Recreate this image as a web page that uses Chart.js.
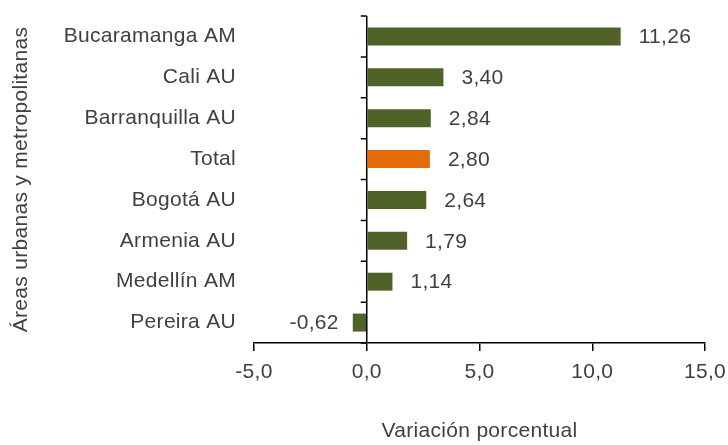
<!DOCTYPE html>
<html>
<head>
<meta charset="utf-8">
<script src="https://cdn.jsdelivr.net/npm/chart.js@4/dist/chart.umd.min.js"></script>
<style>
  html, body { margin: 0; padding: 0; background: #fff; }
  #wrap { width: 728px; height: 445px; }
</style>
</head>
<body>
<div id="wrap"><canvas id="chartCanvas" width="728" height="445"></canvas></div>
<script>
const categories = ["Bucaramanga AM", "Cali AU", "Barranquilla AU", "Total", "Bogotá AU", "Armenia AU", "Medellín AM", "Pereira AU"];
const values = [11.26, 3.40, 2.84, 2.80, 2.64, 1.79, 1.14, -0.62];
const xTicks = [-5, 0, 5, 10, 15];

const GREEN = "#4F6228";
const ORANGE = "#E36C09";
const TEXT = "#404040";
const FONT = "'Liberation Sans', Arial, sans-serif";
const FONT_SIZE = 21;
const SPACING = "0.3px";

const barColors = categories.map(c => c === "Total" ? ORANGE : GREEN);

function fmt(v, d) {
    return v.toFixed(d).replace(".", ",");
}

const spacingPlugin = {
    id: "spacing",
    beforeLayout(chart) { chart.ctx.letterSpacing = SPACING; },
    beforeDraw(chart) { chart.ctx.letterSpacing = SPACING; }
};

// value labels beside each bar
const valueLabels = {
    id: "valueLabels",
    afterDatasetsDraw(chart) {
        const ctx = chart.ctx;
        const meta = chart.getDatasetMeta(0);
        ctx.save();
        ctx.letterSpacing = SPACING;
        ctx.font = FONT_SIZE + "px " + FONT;
        ctx.fillStyle = TEXT;
        ctx.textBaseline = "middle";
        meta.data.forEach((bar, i) => {
            const v = values[i];
            if (v >= 0) {
                ctx.textAlign = "left";
                ctx.fillText(fmt(v, 2), bar.x + 18, bar.y + 1);
            } else {
                ctx.textAlign = "right";
                ctx.fillText(fmt(v, 2), bar.x - 14, bar.y + 1);
            }
        });
        ctx.restore();
    }
};

// small tick marks on the zero line between categories
const zeroTicks = {
    id: "zeroTicks",
    afterDraw(chart) {
        const ctx = chart.ctx;
        const x = chart.scales.x.getPixelForValue(0);
        const y = chart.scales.y;
        const step = y.getPixelForValue(1) - y.getPixelForValue(0);
        ctx.save();
        ctx.strokeStyle = "#000";
        ctx.lineWidth = 1.5;
        ctx.beginPath();
        for (let i = 0; i <= categories.length; i++) {
            const py = y.getPixelForValue(0) + (i - 0.5) * step;
            ctx.moveTo(x - 6, py);
            ctx.lineTo(x, py);
        }
        ctx.stroke();
        ctx.restore();
    }
};

const ctx = document.getElementById("chartCanvas").getContext("2d");
const chart = new Chart(ctx, {
    type: "bar",
    data: {
        labels: categories,
        datasets: [{
            data: values,
            backgroundColor: barColors,
            borderWidth: 0,
            categoryPercentage: 1,
            barPercentage: 0.44
        }]
    },
    options: {
        indexAxis: "y",
        responsive: false,
        animation: false,
        layout: { padding: { top: 16, right: 23, bottom: 0, left: 0 } },
        plugins: {
            legend: { display: false },
            tooltip: { enabled: false }
        },
        scales: {
            x: {
                type: "linear",
                min: -5,
                max: 15,
                afterBuildTicks(scale) {
                    scale.ticks = xTicks.map(v => ({ value: v }));
                },
                afterFit(scale) {
                    scale.height = 102;
                    scale.paddingLeft = 0;
                    scale.paddingRight = 0;
                },
                border: { display: true, color: "#000", width: 1.5 },
                grid: {
                    drawOnChartArea: true,
                    color: c => (c.tick && c.tick.value === 0) ? "#000" : "rgba(0,0,0,0)",
                    lineWidth: 1.5,
                    drawTicks: true,
                    tickLength: 8,
                    tickColor: "#000",
                    tickWidth: 1.5
                },
                ticks: {
                    padding: 9,
                    color: TEXT,
                    font: { family: FONT, size: FONT_SIZE },
                    maxRotation: 0,
                    autoSkip: false,
                    callback: v => fmt(v, 1)
                },
                title: {
                    display: true,
                    text: "Variación porcentual",
                    color: TEXT,
                    font: { family: FONT, size: FONT_SIZE },
                    padding: { top: 0, bottom: 1 }
                }
            },
            y: {
                afterFit(scale) {
                    scale.width = 254;
                    scale.paddingTop = 0;
                    scale.paddingBottom = 0;
                },
                border: { display: false },
                grid: { display: false, drawTicks: false },
                ticks: {
                    padding: 18,
                    color: TEXT,
                    font: { family: FONT, size: FONT_SIZE }
                },
                title: {
                    display: true,
                    text: "Áreas urbanas y metropolitanas",
                    color: TEXT,
                    font: { family: FONT, size: FONT_SIZE },
                    padding: { top: 9, bottom: 0 }
                }
            }
        }
    },
    plugins: [spacingPlugin, valueLabels, zeroTicks]
});
</script>
</body>
</html>
